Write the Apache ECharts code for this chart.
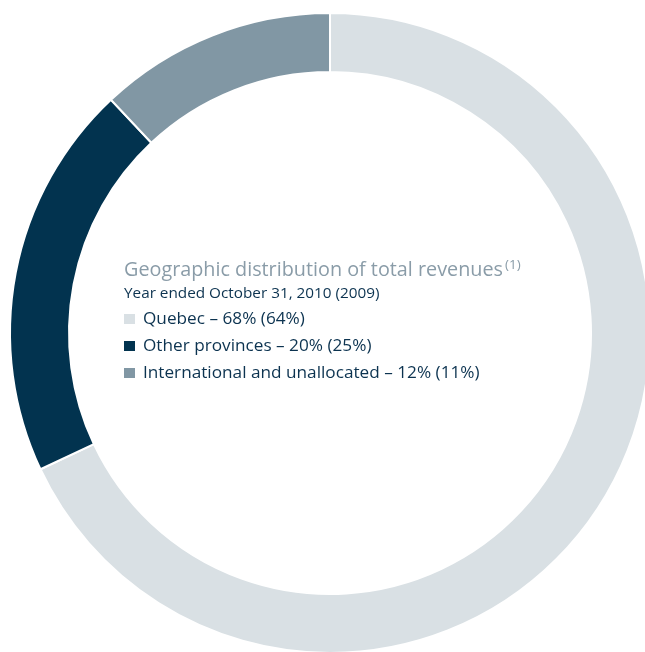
<!DOCTYPE html>
<html><head><meta charset="utf-8">
<script src="https://cdn.jsdelivr.net/npm/echarts@6/dist/echarts.min.js"></script>
<style>html,body{margin:0;padding:0;background:#fff}#c{width:645px;height:652px}</style>
</head><body><div id="c"></div>
<script>
const categories = ['Quebec', 'Other provinces', 'International and unallocated'];
const share2010 = [68, 20, 12];
const share2009 = [64, 25, 11];
const colors = ['#d9e0e4', '#02334f', '#8197a4'];
const FONT = 'Open Sans';

const chart = echarts.init(document.getElementById('c'));
chart.setOption({
  animation: false,
  title: {
    text: '{a|Geographic distribution of total revenues}{s|(1)}',
    subtext: 'Year ended October 31, 2010 (2009)',
    left: 119, top: 253, itemGap: 6,
    textStyle: {
      rich: {
        a: { fontFamily: FONT, fontSize: 19.8, color: '#8a9ca8', fontWeight: 'normal' },
        s: { fontFamily: FONT, fontSize: 13.5, color: '#8a9ca8', fontWeight: 'normal', verticalAlign: 'top', padding: [0, 0, 10, 2] }
      }
    },
    subtextStyle: { fontFamily: FONT, fontSize: 15.3, color: '#0c3350' }
  },
  legend: {
    orient: 'vertical', left: 117, top: 304,
    icon: 'rect', itemWidth: 13, itemHeight: 12, itemGap: 7,
    selectedMode: false,
    textStyle: { fontFamily: FONT, fontSize: 17.2, lineHeight: 20, color: '#0c3350', padding: [0, 0, 0, 2] },
    formatter: function (name) {
      const i = categories.indexOf(name);
      return name + ' \u2013 ' + share2010[i] + '% (' + share2009[i] + '%)';
    }
  },
  series: [{
    type: 'pie',
    center: [330, 333],
    radius: [261, 320],
    startAngle: 90,
    clockwise: true,
    label: { show: false },
    labelLine: { show: false },
    emphasis: { disabled: true },
    itemStyle: { borderColor: '#ffffff', borderWidth: 2 },
    data: categories.map((c, i) => ({ name: c, value: share2010[i], itemStyle: { color: colors[i] } }))
  }]
});
</script></body></html>
